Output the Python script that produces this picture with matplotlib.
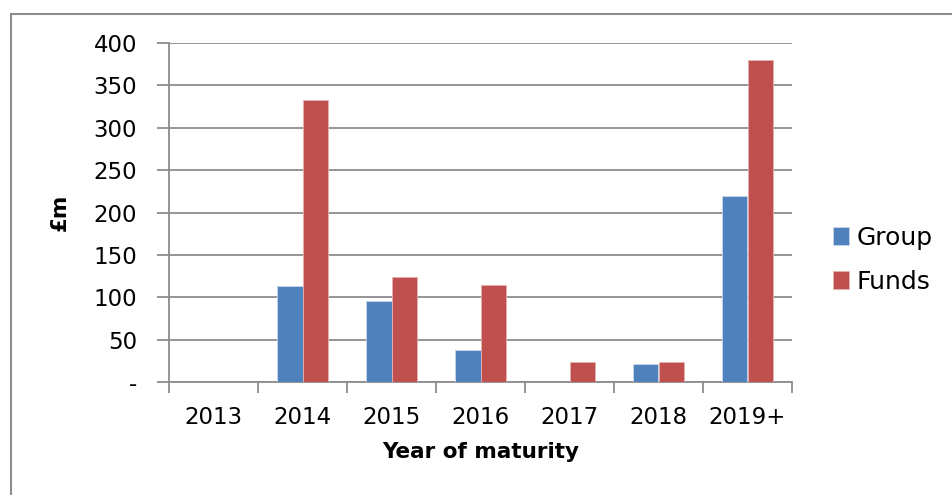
import numpy as np
import matplotlib.pyplot as plt
from matplotlib.patches import Rectangle

years = ['2013', '2014', '2015', '2016', '2017', '2018', '2019+']
group = [0, 113, 95, 38, 0, 21, 220]
funds = [0, 333, 124, 115, 24, 24, 380]
yticks = [0, 50, 100, 150, 200, 250, 300, 350, 400]
ytick_labels = ['-', '50', '100', '150', '200', '250', '300', '350', '400']

plt.rcParams['font.family'] = ['DejaVu Sans']

fig = plt.figure(figsize=(9.52, 4.95), dpi=100)
fig.patches.append(Rectangle((11 / 952, -0.1), 1.2, 1 - 14 / 495 + 0.1,
                             transform=fig.transFigure, fill=False,
                             edgecolor='#8c8c8c', linewidth=1.5))
ax = fig.add_axes([169 / 952, 1 - 382 / 495, 623 / 952, 339 / 495])

x = np.arange(len(years))
w = 1 / 3.5
ax.bar(x - w / 2, group, w, color='#4f81bd', edgecolor='#c9d6ea', linewidth=0.6,
       label='Group', zorder=3)
ax.bar(x + w / 2, funds, w, color='#c0504d', edgecolor='#e4b0ae', linewidth=0.6,
       label='Funds', zorder=3)

ax.set_xlim(-0.5, len(years) - 0.5)
ax.set_ylim(0, 400)
ax.set_yticks(yticks)
ax.set_yticklabels(ytick_labels, fontsize=16.5)
ax.set_xticks(x)
ax.set_xticklabels(years, fontsize=16.5)
ax.set_xticks(np.arange(len(years) + 1) - 0.5, minor=True)
ax.tick_params(axis='x', which='major', length=0, pad=17)
ax.tick_params(axis='x', which='minor', length=8, width=1.3, color='#8c8c8c')
ax.tick_params(axis='y', length=9, width=1.3, color='#8c8c8c', pad=14)

ax.grid(axis='y', color='#8c8c8c', linewidth=1.3, zorder=0)
for s in ['top', 'right']:
    ax.spines[s].set_visible(False)
for s in ['left', 'bottom']:
    ax.spines[s].set_color('#8c8c8c')
    ax.spines[s].set_linewidth(1.3)

ax.set_ylabel('£m', fontsize=15.5, fontweight='bold', labelpad=17)
ax.set_xlabel('Year of maturity', fontsize=15.5, fontweight='bold', labelpad=10)

ax.legend(loc='center left', bbox_to_anchor=(1.03, 0.36), frameon=False,
          fontsize=18, handlelength=0.65, handleheight=0.75, handletextpad=0.3,
          labelspacing=0.8)

fig.savefig('out.png', dpi=100)
